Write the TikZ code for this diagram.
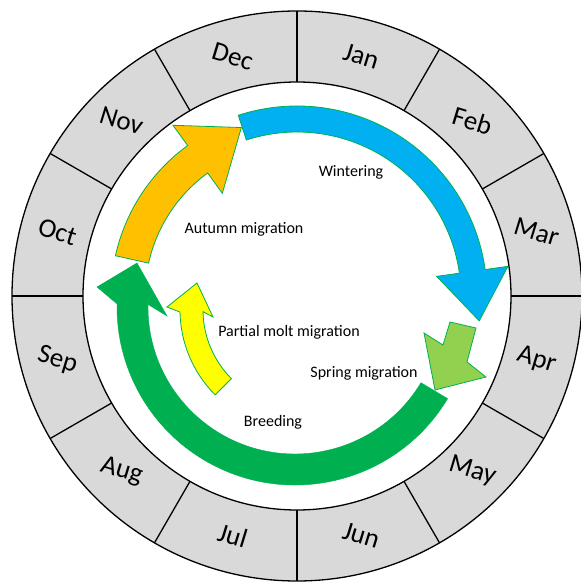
\documentclass[tikz,border=0pt]{standalone}
\usepackage{fontspec}
\setmainfont{Carlito}
\usetikzlibrary{calc}
\definecolor{ringgray}{HTML}{D9D9D9}
\definecolor{wblue}{HTML}{00B0F0}
\definecolor{aorange}{HTML}{FFC000}
\definecolor{bgreen}{HTML}{00B050}
\definecolor{pyellow}{HTML}{FFFF00}
\definecolor{sgreen}{HTML}{92D050}
% arc band with a symmetric head
\newcommand\ArcArrow[8]{%
  \pgfmathsetmacro\rmid{(#4+#5)/2}%
  \pgfmathsetmacro\rwo{\rmid+#6}%
  \pgfmathsetmacro\rwi{\rmid-#6}%
  \draw[#8] ($(#1)+(#2:#5pt)$) arc[start angle=#2, end angle=#3, radius=#5pt]
    -- ($(#1)+(#3:\rwo pt)$) -- ($(#1)+(#3:\rmid pt)+(#3-90:#7pt)$) -- ($(#1)+(#3:\rwi pt)$)
    -- ($(#1)+(#3:#4pt)$) arc[start angle=#3, end angle=#2, radius=#4pt] -- cycle;
}
% arc band with a head given by three points
\newcommand\ArcArrowPts[8]{%
  \draw[#8] ($(#1)+(#2:#5pt)$) arc[start angle=#2, end angle=#3, radius=#5pt]
    -- #6 -- #7 -- ($(#1)+(#3:#4pt)$) arc[start angle=#3, end angle=#2, radius=#4pt] -- cycle;
}
\tikzset{
  ringline/.style={black, line width=1.3pt},
  month/.style={font=\fontsize{27}{27}\selectfont, inner sep=0pt},
  lab/.style={font=\fontsize{16}{16}\selectfont, inner sep=0pt},
  arrowshape/.style={draw=bgreen, line width=0.8pt, line join=miter},
}
\begin{document}
\begin{tikzpicture}[x=1pt, y=1pt]
\useasboundingbox (0,0) rectangle (581,584);
\fill[white] (0,0) rectangle (581,584);
\coordinate (C) at (297,288);
\coordinate (G) at (295,277);
\coordinate (Y) at (300,274);
% month ring
\fill[ringgray, even odd rule] (C) circle[radius=285pt] (C) circle[radius=214pt];
\draw[ringline] (C) circle[radius=285pt];
\draw[ringline] (C) circle[radius=214pt];
\foreach \a in {0,30,...,330}
  \draw[ringline] ($(C)+(\a:214pt)$) -- ($(C)+(\a:285pt)$);
\foreach \m [count=\i from 0] in {Jan,Feb,Mar,Apr,May,Jun,Jul,Aug,Sep,Oct,Nov,Dec}
  \node[month, rotate=-17] (m\m) at ($(C)+(75-30*\i:248pt)$) {\m};
% arrows
\ArcArrow{C}{108}{8}{164}{190}{36}{50}{arrowshape, fill=wblue}
\ArcArrow{C}{167.5}{126}{152}{186}{42}{54}{arrowshape, fill=aorange}
\ArcArrowPts{G}{-31}{-181}{147}{178}{(97,297) -- (137,321)}{(167,268)}{draw=bgreen, fill=bgreen}
\ArcArrowPts{Y}{225}{181}{97}{120}{(167,277) -- (197,301)}{(213,267)}{arrowshape, fill=pyellow}
\draw[arrowshape, fill=sgreen] (450,262) -- (476,256) -- (467,222) -- (486,207)
  -- (435,194) -- (424,251) -- (443,239) -- cycle;
% labels
\node[lab] (wint) at (351,412) {Wintering};
\node[lab] (autm) at (244,355) {Autumn migration};
\node[lab] (molt) at (289,252) {Partial molt migration};
\node[lab] (sprg) at (364,211) {Spring migration};
\node[lab] (breed) at (273,162) {Breeding};
\end{tikzpicture}
\end{document}
